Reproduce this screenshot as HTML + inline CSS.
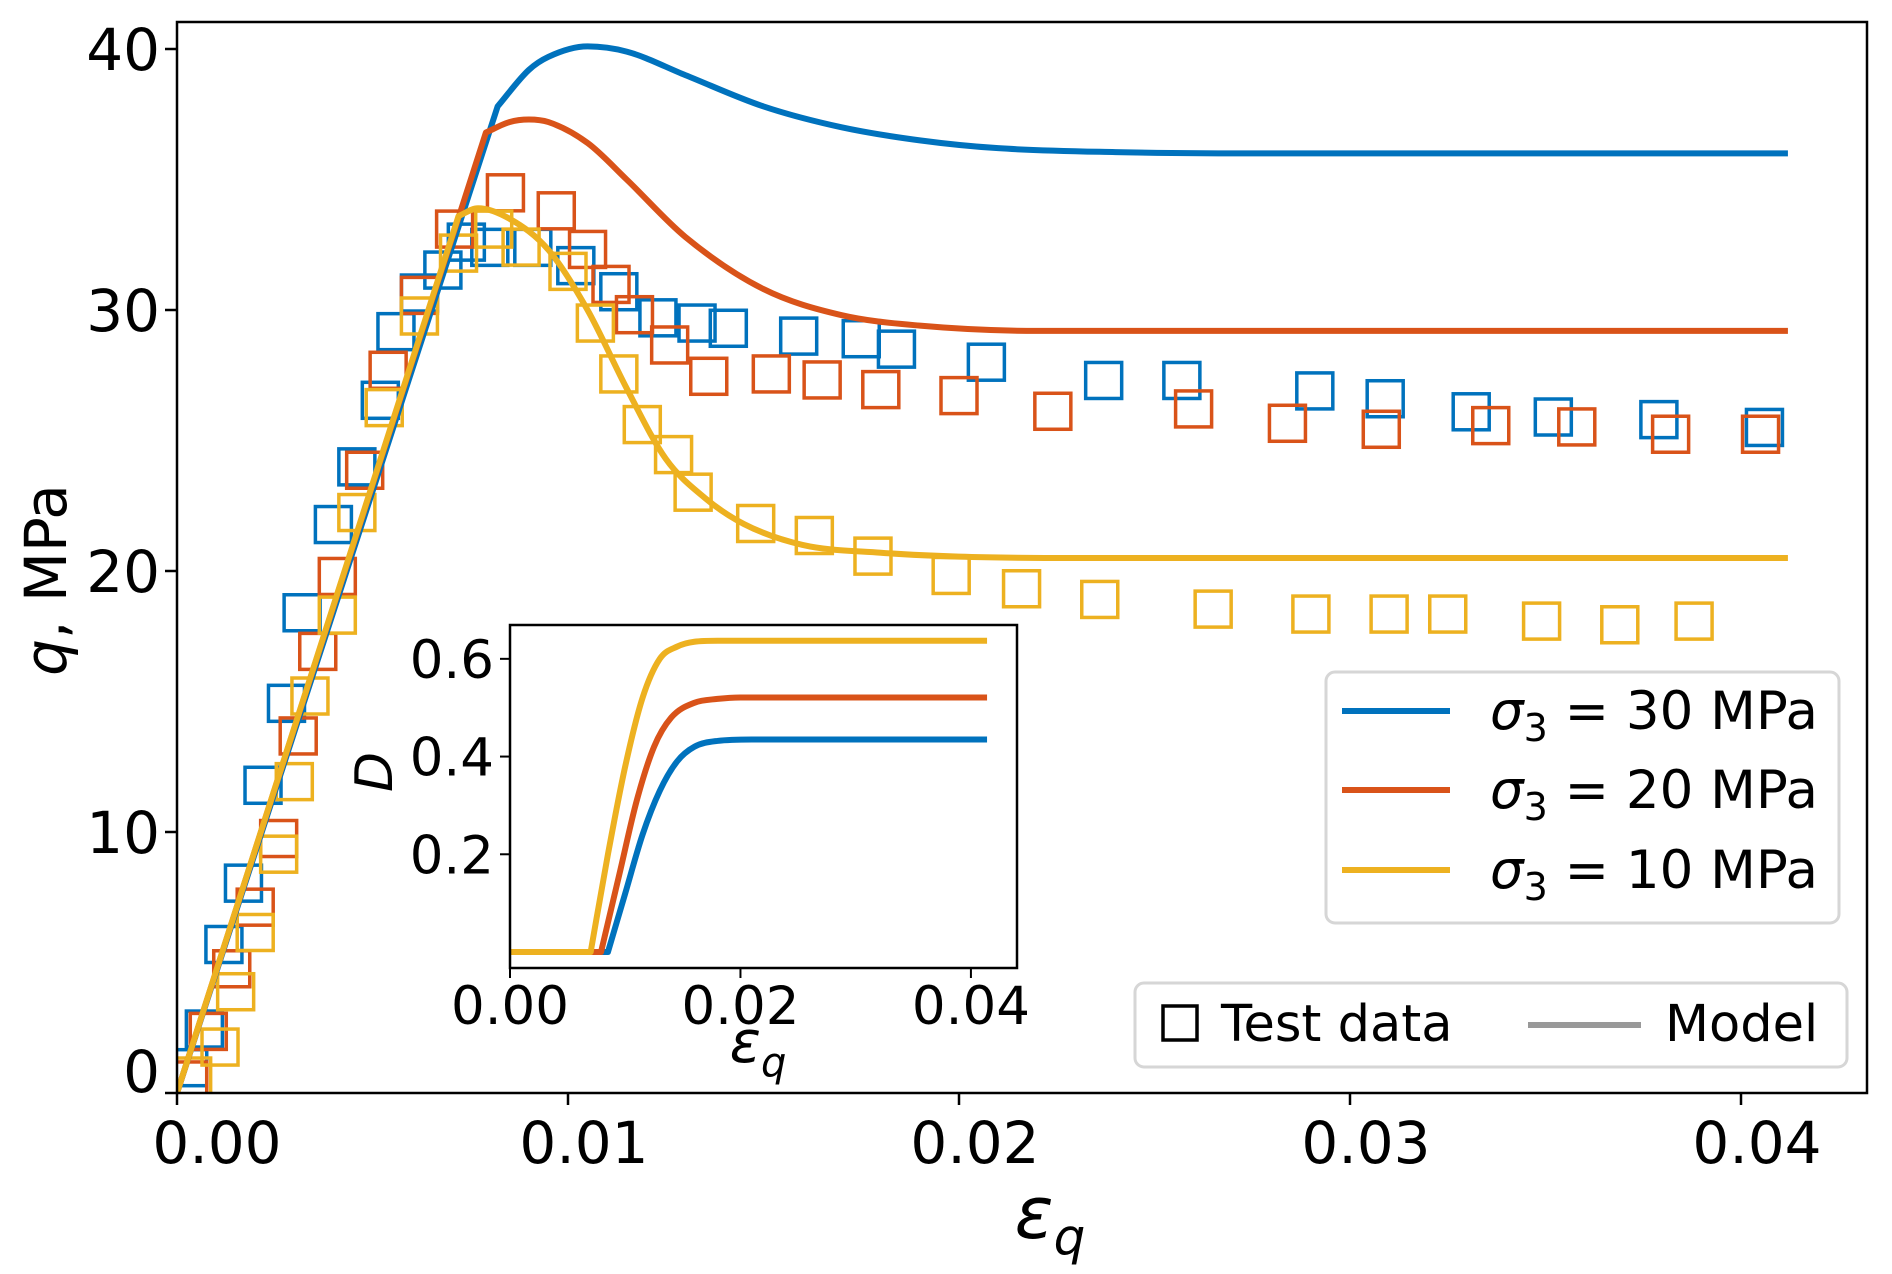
<!DOCTYPE html>
<html><head><meta charset="utf-8"><style>
html,body{margin:0;padding:0;background:#fff}
svg text{font-family:"DejaVu Sans","Liberation Sans",sans-serif;fill:#000}
</style></head><body>
<svg id="chart" width="1892" height="1269" viewBox="0 0 1892 1269" xmlns="http://www.w3.org/2000/svg">
<rect x="0" y="0" width="1892" height="1269" fill="#fff"/>
<defs><clipPath id="mainclip"><rect x="177" y="22" width="1690" height="1071"/></clipPath>
<clipPath id="insetclip"><rect x="510" y="625" width="507" height="343"/></clipPath></defs>
<g id="main-marks" clip-path="url(#mainclip)"></g>
<rect x="177" y="22" width="1690" height="1071" fill="none" stroke="#000" stroke-width="2.5"/>
<g id="main-ticks"></g>
<text x="1050" y="1238" font-size="72" font-style="italic" text-anchor="middle">ε<tspan font-size="50" dy="16">q</tspan></text>
<text transform="translate(66,580) rotate(-90)" font-size="58" text-anchor="middle"><tspan font-style="italic">q</tspan>, MPa</text>
<rect x="510" y="625" width="507" height="343" fill="#fff"/>
<g id="inset-marks" clip-path="url(#insetclip)"></g>
<rect x="510" y="625" width="507" height="343" fill="none" stroke="#000" stroke-width="2.5"/>
<g id="inset-ticks"></g>
<text x="758" y="1062" font-size="58" font-style="italic" text-anchor="middle">ε<tspan font-size="40" dy="14">q</tspan></text>
<text transform="translate(392,772) rotate(-90)" font-size="52" font-style="italic" text-anchor="middle">D</text>
<g>
<rect x="1326" y="672" width="513" height="251" rx="9" fill="#fff" stroke="#d6d6d6" stroke-width="3"/>
<line x1="1342" y1="711" x2="1450" y2="711" stroke="#0072BD" stroke-width="6"/>
<text x="1490" y="729" font-size="53"><tspan font-style="italic">σ</tspan><tspan font-size="38" dy="12">3</tspan><tspan dy="-12"> = 30 MPa</tspan></text>
<line x1="1342" y1="790" x2="1450" y2="790" stroke="#D95319" stroke-width="6"/>
<text x="1490" y="808" font-size="53"><tspan font-style="italic">σ</tspan><tspan font-size="38" dy="12">3</tspan><tspan dy="-12"> = 20 MPa</tspan></text>
<line x1="1342" y1="870" x2="1450" y2="870" stroke="#EDB120" stroke-width="6"/>
<text x="1490" y="888" font-size="53"><tspan font-style="italic">σ</tspan><tspan font-size="38" dy="12">3</tspan><tspan dy="-12"> = 10 MPa</tspan></text>
</g>
<g>
<rect x="1135" y="983" width="712" height="84" rx="9" fill="#fff" stroke="#d6d6d6" stroke-width="3"/>
<rect x="1163" y="1006" width="34" height="34" fill="none" stroke="#000" stroke-width="3.5"/>
<text x="1221" y="1041" font-size="51">Test data</text>
<line x1="1528" y1="1025" x2="1641" y2="1025" stroke="#999" stroke-width="6"/>
<text x="1665" y="1041" font-size="51">Model</text>
</g>
</svg>
<script>
const NS="http://www.w3.org/2000/svg";
const xTicks=[0,0.01,0.02,0.03,0.04];
const xTickLabels=["0.00","0.01","0.02","0.03","0.04"];
const yTicks=[0,10,20,30,40];
const yTickLabels=["0","10","20","30","40"];
const insetXTicks=[0,0.02,0.04];
const insetXTickLabels=["0.00","0.02","0.04"];
const insetYTicks=[0.2,0.4,0.6];
const insetYTickLabels=["0.2","0.4","0.6"];
// model q curves
const modelStrain30=[0,0.0082,0.009,0.0095,0.0105,0.0115,0.013,0.015,0.017,0.019,0.021,0.024,0.028,0.0412];
const modelQ30=[0,37.8,39.2,39.7,40.1,39.9,39.0,37.8,37.0,36.5,36.2,36.05,36.0,36.0];
const modelStrain20=[0,0.0079,0.0085,0.009,0.0095,0.0105,0.0115,0.013,0.015,0.017,0.019,0.022,0.026,0.0412];
const modelQ20=[0,36.8,37.2,37.3,37.2,36.4,35.0,32.8,30.8,29.8,29.4,29.2,29.2,29.2];
const modelStrain10=[0,0.0072,0.0077,0.0085,0.0095,0.0105,0.0115,0.0125,0.0135,0.0145,0.016,0.018,0.02,0.023,0.0412];
const modelQ10=[0,33.6,33.9,33.5,32.3,30.0,27.0,24.3,22.8,21.8,21.0,20.7,20.55,20.5,20.5];
// test data
const testStrain30=[0.0003,0.0007,0.0012,0.0017,0.0022,0.0028,0.0032,0.0040,0.0046,0.0052,0.0056,0.0062,0.0068,0.0074,0.0080,0.0091,0.0102,0.0113,0.0123,0.0133,0.0141,0.0159,0.0175,0.0184,0.0207,0.0237,0.0257,0.0291,0.0309,0.0331,0.0352,0.0379,0.0406];
const testQ30=[0.97,2.45,5.69,8.04,11.79,14.93,18.40,21.78,23.99,26.54,29.17,30.65,31.53,32.6,32.4,32.4,31.7,30.7,29.7,29.5,29.3,29.0,28.9,28.5,28.0,27.3,27.3,26.9,26.6,26.1,25.9,25.8,25.5];
const testStrain20=[0.0003,0.0008,0.0014,0.0020,0.0026,0.0031,0.0036,0.0041,0.0048,0.0054,0.0062,0.0071,0.0084,0.0097,0.0105,0.0111,0.0117,0.0126,0.0136,0.0152,0.0165,0.0180,0.0200,0.0224,0.0260,0.0284,0.0308,0.0336,0.0358,0.0382,0.0405];
const testQ20=[0.5,2.36,4.76,7.12,9.75,13.68,16.92,19.79,23.86,27.69,30.56,33.10,34.49,33.80,32.32,30.98,29.82,28.66,27.46,27.55,27.32,26.95,26.72,26.12,26.21,25.66,25.43,25.57,25.52,25.24,25.24];
const testStrain10=[0.0004,0.0011,0.0015,0.0020,0.0026,0.0030,0.0034,0.0041,0.0046,0.0053,0.0062,0.0072,0.0081,0.0088,0.0100,0.0107,0.0113,0.0119,0.0127,0.0132,0.0148,0.0163,0.0178,0.0198,0.0216,0.0236,0.0265,0.0290,0.0310,0.0325,0.0349,0.0369,0.0388];
const testQ10=[0.65,1.76,3.88,6.15,9.15,11.93,15.21,18.31,22.24,26.26,29.77,32.18,33.10,32.41,31.48,29.50,27.55,25.61,24.46,23.02,21.82,21.36,20.57,19.83,19.32,18.91,18.54,18.35,18.35,18.35,18.08,17.94,18.08];
// inset damage curves
const dStrain30=[0,0.0085,0.010,0.0115,0.013,0.0145,0.016,0.018,0.021,0.0414];
const dVal30=[0,0,0.12,0.24,0.33,0.39,0.42,0.432,0.435,0.435];
const dStrain20=[0,0.0079,0.0095,0.011,0.0125,0.014,0.016,0.018,0.02,0.0414];
const dVal20=[0,0,0.16,0.31,0.42,0.48,0.51,0.518,0.521,0.521];
const dStrain10=[0,0.0070,0.0085,0.010,0.0115,0.013,0.0145,0.016,0.018,0.0414];
const dVal10=[0,0,0.2,0.38,0.52,0.60,0.625,0.635,0.637,0.637];

const X=v=>177+v*39100, Y=v=>1093-v*26.1;
const IX=v=>510+v*11523, IY=v=>952-v*488.6;
const C30="#0072BD",C20="#D95319",C10="#EDB120";

function el(tag,attrs,parent){const e=document.createElementNS(NS,tag);for(const k in attrs)e.setAttribute(k,attrs[k]);parent.appendChild(e);return e;}
// straight first segment, then monotone cubic (Fritsch-Carlson)
function curvePath(xs,ys,fx,fy){
  const p=xs.map((x,i)=>[fx(x),fy(ys[i])]);
  let d="M"+p[0][0]+","+p[0][1]+" L"+p[1][0]+","+p[1][1];
  const q=p.slice(1),n=q.length;
  const dl=[],h=[];
  for(let k=0;k<n-1;k++){h[k]=q[k+1][0]-q[k][0];dl[k]=(q[k+1][1]-q[k][1])/h[k];}
  const m=[];
  m[0]=dl[0];m[n-1]=dl[n-2];
  for(let k=1;k<n-1;k++){m[k]=(dl[k-1]*dl[k]<=0)?0:(dl[k-1]+dl[k])/2;}
  for(let k=0;k<n-1;k++){
    if(dl[k]===0){m[k]=0;m[k+1]=0;continue;}
    const a=m[k]/dl[k],b=m[k+1]/dl[k],s=a*a+b*b;
    if(s>9){const t=3/Math.sqrt(s);m[k]=t*a*dl[k];m[k+1]=t*b*dl[k];}
  }
  for(let k=0;k<n-1;k++){
    const c1=[q[k][0]+h[k]/3,q[k][1]+m[k]*h[k]/3];
    const c2=[q[k+1][0]-h[k]/3,q[k+1][1]-m[k+1]*h[k]/3];
    d+=" C"+c1[0]+","+c1[1]+" "+c2[0]+","+c2[1]+" "+q[k+1][0]+","+q[k+1][1];
  }
  return d;
}
const main=document.getElementById("main-marks");
const mt=document.getElementById("main-ticks");
xTicks.forEach((v,i)=>{
  const t=el("line",{x1:X(v),y1:1093,x2:X(v),y2:1105,stroke:"#000","stroke-width":2.5},mt);
  
  
  const off=(i===0)?40:16;
  const l=el("text",{x:X(v)+off,y:1163,"font-size":58,"text-anchor":"middle"},mt);
  l.textContent=xTickLabels[i];
  
  
});
yTicks.forEach((v,i)=>{
  const t=el("line",{x1:165,y1:Y(v),x2:177,y2:Y(v),stroke:"#000","stroke-width":2.5},mt);
  
  
  const l=el("text",{x:160,y:(v===0?1092:Y(v)+21),"font-size":58,"text-anchor":"end"},mt);
  l.textContent=yTickLabels[i];
  
  
});
function squares(xs,ys,color,name){
  xs.forEach((x,i)=>{
    const r=el("rect",{x:X(x)-18,y:Y(ys[i])-18,width:36,height:36,fill:"none",stroke:color,"stroke-width":3.5},main);
    
    
  });
}
squares(testStrain30,testQ30,C30,'test-point-30mpa');
squares(testStrain20,testQ20,C20,'test-point-20mpa');
squares(testStrain10,testQ10,C10,'test-point-10mpa');
function curve(parent,xs,ys,fx,fy,color,name){
  const p=el("path",{d:curvePath(xs,ys,fx,fy),fill:"none",stroke:color,"stroke-width":6,"stroke-linejoin":"round"},parent);
  
  
}
curve(main,modelStrain30,modelQ30,X,Y,C30,'model-line-30mpa');
curve(main,modelStrain20,modelQ20,X,Y,C20,'model-line-20mpa');
curve(main,modelStrain10,modelQ10,X,Y,C10,'model-line-10mpa');
const ins=document.getElementById("inset-marks");
curve(ins,dStrain30,dVal30,IX,IY,C30,'damage-line-30mpa');
curve(ins,dStrain20,dVal20,IX,IY,C20,'damage-line-20mpa');
curve(ins,dStrain10,dVal10,IX,IY,C10,'damage-line-10mpa');
const it=document.getElementById("inset-ticks");
insetXTicks.forEach((v,i)=>{
  const t=el("line",{x1:IX(v),y1:968,x2:IX(v),y2:978,stroke:"#000","stroke-width":2},it);
  
  
  const l=el("text",{x:IX(v),y:1024,"font-size":53,"text-anchor":"middle"},it);
  l.textContent=insetXTickLabels[i];
  
  
});
insetYTicks.forEach((v,i)=>{
  const t=el("line",{x1:500,y1:IY(v),x2:510,y2:IY(v),stroke:"#000","stroke-width":2},it);
  
  
  const l=el("text",{x:494,y:IY(v)+19,"font-size":53,"text-anchor":"end"},it);
  l.textContent=insetYTickLabels[i];
  
  
});
</script>
</body></html>
